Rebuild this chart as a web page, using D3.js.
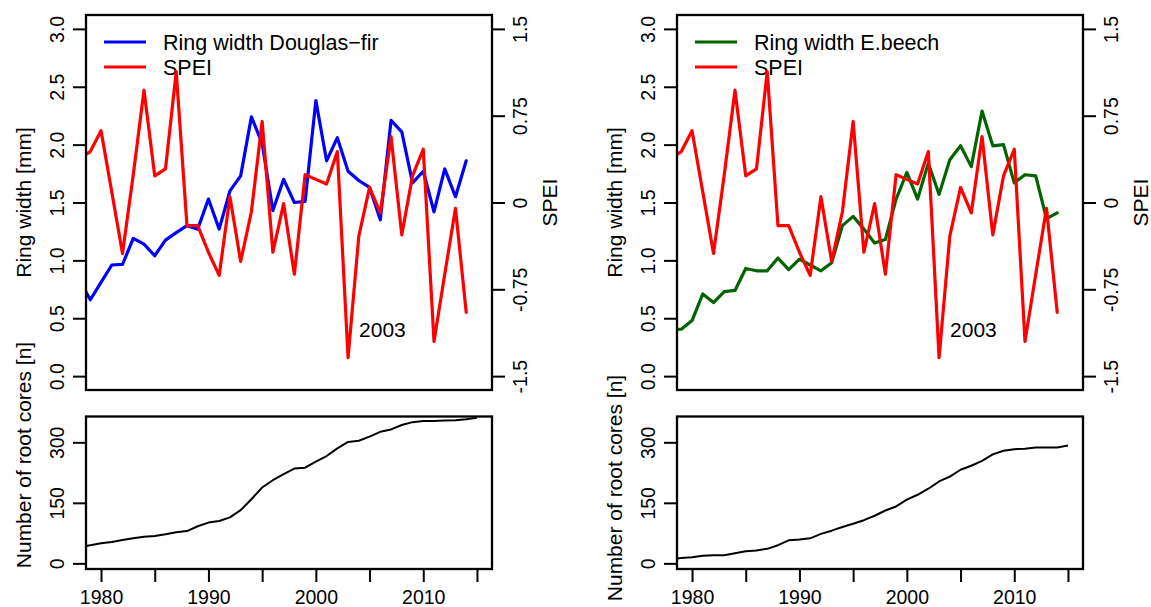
<!DOCTYPE html>
<html>
<head>
<meta charset="utf-8">
<script src="https://cdn.jsdelivr.net/npm/d3@7"></script>
<style>
  body { margin: 0; background: #fff; }
  svg { display: block; font-family: "Liberation Sans", Arial, sans-serif; }
</style>
</head>
<body>
<svg id="chart"></svg>
<script>
// data (1978 values only show at the clipped left edge)
const years = [1978, 1979, 1980, 1981, 1982, 1983, 1984, 1985, 1986, 1987, 1988, 1989,
  1990, 1991, 1992, 1993, 1994, 1995, 1996, 1997, 1998, 1999, 2000, 2001, 2002,
  2003, 2004, 2005, 2006, 2007, 2008, 2009, 2010, 2011, 2012, 2013, 2014];
const coreYears = years.concat([2015]);

const spei = [0.38, 0.44, 0.62, 0.09, -0.44, 0.24, 0.97, 0.23, 0.29, 1.13, -0.20, -0.20,
  -0.43, -0.63, 0.05, -0.51, -0.08, 0.70, -0.43, -0.01, -0.62, 0.24, 0.20, 0.16, 0.44,
  -1.34, -0.29, 0.13, -0.09, 0.57, -0.28, 0.23, 0.46, -1.20, -0.62, -0.05, -0.95];

const ringDouglas = [0.83, 0.66, 0.81, 0.96, 0.965, 1.19, 1.14, 1.04, 1.175, 1.24, 1.30, 1.27,
  1.53, 1.27, 1.60, 1.73, 2.24, 2.01, 1.43, 1.70, 1.50, 1.51, 2.38, 1.86, 2.06,
  1.77, 1.69, 1.63, 1.35, 2.21, 2.11, 1.67, 1.77, 1.42, 1.79, 1.55, 1.86];

const ringBeech = [0.40, 0.405, 0.48, 0.71, 0.635, 0.73, 0.74, 0.93, 0.91, 0.91, 1.02, 0.92,
  1.01, 0.96, 0.91, 0.98, 1.30, 1.38, 1.27, 1.15, 1.18, 1.53, 1.76, 1.53, 1.84,
  1.57, 1.87, 1.99, 1.81, 2.29, 1.99, 2.00, 1.67, 1.74, 1.73, 1.36, 1.41];

const coresDouglas = [40, 45, 50, 53, 58, 62, 66, 68, 72, 77, 80, 92,
  101, 105, 114, 132, 159, 188, 206, 221, 235, 237, 252, 266, 285,
  301, 304, 314, 326, 332, 343, 350, 353, 353, 354, 355, 357, 361];

const coresBeech = [11, 13, 15, 19, 20, 20, 25, 30, 32, 36, 45, 57,
  59, 62, 73, 81, 90, 98, 107, 118, 131, 141, 158, 170, 185,
  203, 215, 232, 242, 254, 270, 279, 283, 284, 287, 287, 287, 292];

const ringTicks = [0, 0.5, 1, 1.5, 2, 2.5, 3];
const speiTicks = [-1.5, -0.75, 0, 0.75, 1.5];
const coreTicks = [0, 150, 300];
const yearTicks = [1980, 1985, 1990, 1995, 2000, 2005, 2010, 2015];
const yearLabels = [1980, 1990, 2000, 2010];
const speiNote = { year: 2003, value: -1.1, text: "2003" };

const width = 1151, height = 607;
const svg = d3.select("#chart").attr("width", width).attr("height", height);

// R style 4% axis padding
function rPad(lo, hi) { let p = (hi - lo) * 0.04; return [lo - p, hi + p]; }

const panels = [
  { id: "df", x0: 86, x1: 492, ring: ringDouglas, cores: coresDouglas,
    color: "#0000ff", label: "Ring width Douglas\u2212fir", coreLabelY: 455 },
  { id: "eb", x0: 677, x1: 1083, ring: ringBeech, cores: coresBeech,
    color: "#006400", label: "Ring width E.beech", coreLabelY: 488 }
];
const topBox = { y0: 15, y1: 390 };
const botBox = { y0: 416.5, y1: 569 };
const tickLen = 13;
const tickFont = "19.5px", labFont = "21px";

function rotLabels(g, off) {
  // vertical tick labels like R's las=0 on a side axis
  g.selectAll(".tick text")
    .attr("x", null).attr("dy", "0.35em")
    .attr("transform", "translate(" + off + ",0) rotate(-90)")
    .attr("text-anchor", "middle")
    .style("font-size", tickFont)
    .attr("fill", "#000");
}

function styleAxis(g) {
  g.select(".domain").remove();
  g.selectAll(".tick line").attr("stroke", "#000").attr("stroke-width", 2);
}

panels.forEach(function (p) {
  let x = d3.scaleLinear().domain(rPad(1980, 2015)).range([p.x0, p.x1]);
  let yRing = d3.scaleLinear().domain(rPad(0, 3)).range([topBox.y1, topBox.y0]);
  let ySpei = d3.scaleLinear().domain(rPad(-1.5, 1.5)).range([topBox.y1, topBox.y0]);
  let yCore = d3.scaleLinear().domain(rPad(0, 350)).range([botBox.y1, botBox.y0]);

  let g = svg.append("g").attr("id", p.id);

  g.append("clipPath").attr("id", "clipTop" + p.id).append("rect")
    .attr("x", p.x0).attr("y", topBox.y0).attr("width", p.x1 - p.x0).attr("height", topBox.y1 - topBox.y0);
  g.append("clipPath").attr("id", "clipBot" + p.id).append("rect")
    .attr("x", p.x0).attr("y", botBox.y0).attr("width", p.x1 - p.x0).attr("height", botBox.y1 - botBox.y0);

  // legend (drawn first, the SPEI line passes over it)
  let legend = [{ c: p.color, t: p.label }, { c: "#ff0000", t: "SPEI" }];
  legend.forEach(function (d, i) {
    let ly = 42 + i * 25;
    g.append("line").attr("x1", p.x0 + 18).attr("x2", p.x0 + 60)
      .attr("y1", ly).attr("y2", ly)
      .attr("stroke", d.c).attr("stroke-width", 3.2);
    g.append("text").attr("x", p.x0 + 77).attr("y", ly).attr("dy", "0.35em")
      .style("font-size", "21.5px").text(d.t);
  });

  // top panel lines
  let ringLine = d3.line().x((d, i) => x(years[i])).y(d => yRing(d));
  let speiLine = d3.line().x((d, i) => x(years[i])).y(d => ySpei(d));
  let lt = g.append("g").attr("clip-path", "url(#clipTop" + p.id + ")");
  lt.append("path").datum(p.ring).attr("d", ringLine)
    .attr("fill", "none").attr("stroke", p.color).attr("stroke-width", 3.2)
    .attr("stroke-linejoin", "round").attr("stroke-linecap", "round");
  lt.append("path").datum(spei).attr("d", speiLine)
    .attr("fill", "none").attr("stroke", "#ff0000").attr("stroke-width", 3.2)
    .attr("stroke-linejoin", "round").attr("stroke-linecap", "round");

  g.append("text")
    .attr("x", x(speiNote.year) + 11).attr("y", ySpei(speiNote.value)).attr("dy", "0.35em")
    .style("font-size", "21px").text(speiNote.text);

  // top axes
  let axL = g.append("g").attr("transform", "translate(" + p.x0 + ",0)")
    .call(d3.axisLeft(yRing).tickValues(ringTicks).tickSize(tickLen)
      .tickFormat(d3.format(".1f")));
  styleAxis(axL); rotLabels(axL, -29);

  let axR = g.append("g").attr("transform", "translate(" + p.x1 + ",0)")
    .call(d3.axisRight(ySpei).tickValues(speiTicks).tickSize(tickLen)
      .tickFormat(d => String(d)));
  styleAxis(axR); rotLabels(axR, 28);

  g.append("rect").attr("x", p.x0).attr("y", topBox.y0)
    .attr("width", p.x1 - p.x0).attr("height", topBox.y1 - topBox.y0)
    .attr("fill", "none").attr("stroke", "#000").attr("stroke-width", 2.3);

  g.append("text")
    .attr("transform", "translate(" + (p.x0 - 62.5) + "," + ((topBox.y0 + topBox.y1) / 2) + ") rotate(-90)")
    .attr("text-anchor", "middle").attr("dy", "0.35em")
    .style("font-size", labFont).text("Ring width [mm]");
  g.append("text")
    .attr("transform", "translate(" + (p.x1 + 57.5) + "," + ((topBox.y0 + topBox.y1) / 2) + ") rotate(-90)")
    .attr("text-anchor", "middle").attr("dy", "0.35em")
    .style("font-size", labFont).text("SPEI");

  // bottom panel: sample depth
  let coreLine = d3.line().x((d, i) => x(coreYears[i])).y(d => yCore(d));
  g.append("g").attr("clip-path", "url(#clipBot" + p.id + ")")
    .append("path").datum(p.cores).attr("d", coreLine)
    .attr("fill", "none").attr("stroke", "#000").attr("stroke-width", 2)
    .attr("stroke-linejoin", "round");

  let axB = g.append("g").attr("transform", "translate(" + p.x0 + ",0)")
    .call(d3.axisLeft(yCore).tickValues(coreTicks).tickSize(tickLen));
  styleAxis(axB); rotLabels(axB, -29);

  let axX = g.append("g").attr("transform", "translate(0," + botBox.y1 + ")")
    .call(d3.axisBottom(x).tickValues(yearTicks).tickSize(tickLen)
      .tickFormat(d => yearLabels.includes(d) ? String(d) : ""));
  styleAxis(axX);
  axX.selectAll(".tick text").attr("y", 28).attr("dy", "0.35em")
    .style("font-size", tickFont).attr("fill", "#000");

  g.append("rect").attr("x", p.x0).attr("y", botBox.y0)
    .attr("width", p.x1 - p.x0).attr("height", botBox.y1 - botBox.y0)
    .attr("fill", "none").attr("stroke", "#000").attr("stroke-width", 2.3);

  g.append("text")
    .attr("transform", "translate(" + (p.x0 - 62.5) + "," + p.coreLabelY + ") rotate(-90)")
    .attr("text-anchor", "middle").attr("dy", "0.35em")
    .style("font-size", labFont).text("Number of root cores [n]");
});
</script>
</body>
</html>
